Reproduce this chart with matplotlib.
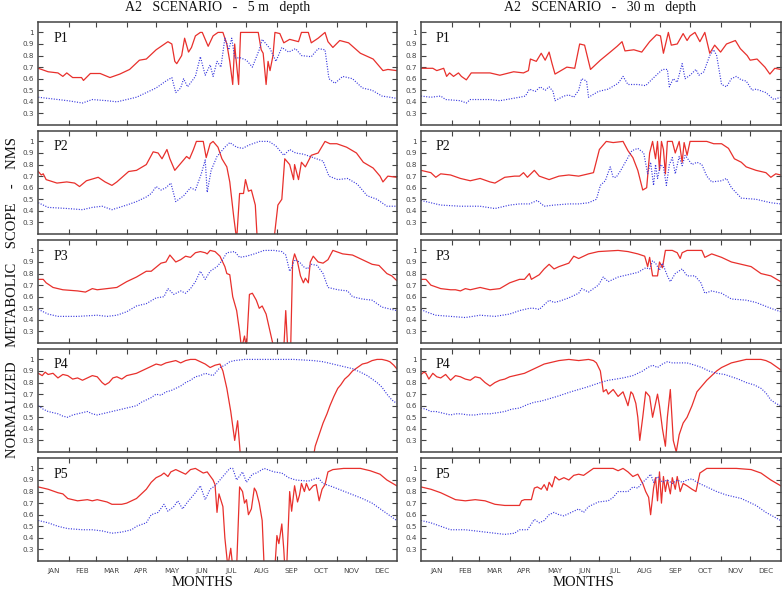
import numpy as np
import matplotlib
matplotlib.use("Agg")
import matplotlib.pyplot as plt

# (day of year, NMS) pairs; red = solid, blue = dotted
p1_5m_red = [(0, .69), (10, .66), (20, .65), (25, .62), (29, .65), (35, .61), (44, .61), (46, .585),
             (53, .645), (63, .645), (73, .61), (83, .64), (93, .68), (103, .76), (110, .77), (120, .85),
             (132, .92), (136, .90), (139, .75), (141, .73), (146, .80), (149, .95), (153, .83), (156, .87),
             (160, .97), (165, 1.0), (167, 1.0), (173, .88), (178, .97), (183, 1.0), (188, 1.0), (192, .90),
             (195, .75), (198, .55), (200, .90), (201, .80), (204, .55), (206, 1.0), (224, 1.0), (227, .85),
             (229, .82), (232, .55), (234, .75), (236, .67), (239, .80), (241, 1.0), (246, .99), (250, .91),
             (256, .94), (265, .92), (268, 1.0), (275, 1.0), (278, .91), (285, .95), (292, 1.0), (295, .92),
             (300, .87), (307, .93), (316, .91), (328, .82), (341, .77), (351, .67), (356, .68), (365, .67)]
p1_5m_blue = [(0, .44), (20, .42), (30, .41), (45, .39), (55, .42), (70, .41), (80, .40), (100, .44),
              (120, .52), (130, .58), (136, .61), (140, .48), (145, .52), (148, .60), (152, .53), (160, .62),
              (165, .79), (170, .63), (175, .72), (178, .62), (182, .75), (186, .70), (190, .95), (194, .85),
              (197, .95), (200, .78), (206, .78), (212, .76), (218, .70), (225, .85), (228, .94), (236, .86),
              (242, .75), (248, .87), (255, .83), (262, .86), (268, .80), (278, .79), (285, .86), (292, .85),
              (296, .60), (302, .56), (310, .62), (320, .60), (330, .52), (340, .50), (350, .45), (358, .44),
              (365, .43)]
p1_30m_red = [(0, .69), (12, .69), (16, .67), (23, .69), (26, .62), (29, .65), (33, .62), (38, .65),
              (41, .62), (46, .59), (51, .65), (70, .65), (80, .63), (94, .66), (104, .65), (109, .67),
              (111, .77), (117, .75), (122, .82), (126, .76), (130, .83), (133, .73), (136, .64), (148, .70),
              (156, .69), (161, .90), (166, .89), (172, .68), (182, .76), (192, .83), (199, .88), (204, .92),
              (207, .84), (216, .85), (224, .83), (232, .92), (239, .98), (243, .97), (246, .82), (251, 1.0),
              (254, .89), (260, .90), (266, .99), (270, .93), (273, .97), (278, 1.0), (283, .92), (288, 1.0),
              (293, .82), (298, .89), (304, .83), (310, .90), (319, .93), (324, .86), (331, .80), (334, .76),
              (341, .77), (349, .70), (354, .64), (359, .69), (365, .68)]
p1_30m_blue = [(0, .45), (10, .44), (20, .45), (25, .42), (40, .41), (46, .39), (50, .42), (70, .42),
               (80, .41), (100, .44), (106, .45), (110, .51), (116, .49), (121, .53), (126, .50), (130, .53),
               (134, .49), (136, .41), (145, .45), (150, .46), (155, .44), (160, .50), (163, .60), (168, .58),
               (170, .44), (180, .49), (190, .51), (200, .56), (205, .62), (210, .55), (220, .55), (228, .54),
               (235, .60), (245, .68), (250, .68), (252, .53), (256, .60), (260, .57), (265, .73), (268, .60),
               (273, .63), (279, .68), (282, .63), (287, .66), (293, .80), (297, .85), (300, .80), (305, .55),
               (310, .53), (315, .60), (320, .62), (325, .59), (330, .58), (336, .50), (340, .51), (350, .48),
               (358, .42), (365, .44)]

p2_5m_red = [(0, .74), (3, .71), (5, .72), (8, .67), (19, .64), (29, .65), (37, .64), (42, .61), (49, .66),
             (61, .69), (68, .65), (75, .62), (80, .65), (92, .74), (100, .75), (110, .80), (117, .91),
             (122, .90), (126, .85), (131, .93), (134, .85), (139, .75), (144, .80), (151, .87), (154, .85),
             (158, .93), (161, 1.0), (168, 1.0), (171, .86), (175, .98), (178, 1.0), (183, .95), (187, .85),
             (192, .78), (195, .65), (199, .35), (202, .15), (205, .55), (209, .55), (211, .67), (214, .57),
             (217, .58), (221, .45), (223, .15), (240, .15), (244, .45), (248, .50), (251, .85), (256, .80),
             (260, .67), (261, .80), (265, .67), (268, .82), (272, .78), (278, .88), (285, .90), (292, 1.0),
             (297, .98), (304, .98), (314, .95), (324, .90), (331, .82), (341, .77), (348, .70), (351, .65),
             (356, .70), (365, .69)]
p2_5m_blue = [(0, .47), (10, .43), (30, .42), (45, .41), (55, .43), (65, .44), (75, .41), (90, .45),
              (100, .48), (110, .52), (115, .55), (120, .61), (125, .58), (130, .60), (135, .64), (140, .48),
              (148, .53), (155, .60), (160, .58), (166, .72), (170, .84), (172, .56), (176, .75), (182, .87),
              (190, .95), (195, .99), (202, .95), (208, .94), (215, .97), (225, 1.0), (235, 1.0), (242, .96),
              (250, .88), (256, .93), (262, .90), (270, .89), (280, .86), (290, .83), (296, .70), (305, .67),
              (315, .68), (325, .63), (335, .53), (345, .50), (355, .44), (365, .44)]
p2_30m_red = [(0, .75), (10, .73), (15, .69), (20, .72), (30, .71), (40, .68), (50, .66), (60, .68),
              (70, .65), (75, .64), (85, .69), (95, .70), (100, .70), (104, .73), (108, .69), (115, .75),
              (120, .70), (130, .67), (140, .70), (150, .71), (160, .70), (170, .72), (175, .73), (181, .93),
              (188, 1.0), (195, .99), (205, 1.0), (210, .92), (215, .86), (220, .75), (225, .58), (229, .60),
              (232, .90), (235, 1.0), (238, .85), (240, 1.0), (242, .75), (244, 1.0), (246, .93), (248, .72),
              (250, 1.0), (255, 1.0), (258, .90), (262, 1.0), (265, .82), (267, .99), (270, .88), (273, 1.0),
              (290, 1.0), (297, .98), (305, .98), (312, .94), (318, .85), (325, .82), (330, .78), (340, .75),
              (350, .73), (355, .69), (360, .72), (365, .71)]
p2_30m_blue = [(0, .49), (10, .47), (20, .45), (40, .44), (60, .44), (75, .42), (90, .45), (100, .46),
               (110, .46), (118, .49), (125, .44), (135, .45), (150, .46), (160, .46), (170, .47), (178, .50),
               (182, .62), (187, .66), (192, .78), (195, .69), (198, .69), (202, .74), (210, .86), (214, .92),
               (220, .94), (226, .90), (230, .72), (233, .82), (236, .62), (238, .80), (240, .68), (243, .80),
               (246, .78), (249, .62), (252, .80), (255, .86), (258, .72), (262, .87), (265, .79), (268, .88),
               (275, .80), (280, .82), (285, .80), (290, .70), (295, .65), (305, .66), (310, .68), (315, .60),
               (325, .51), (340, .50), (355, .47), (365, .46)]

p3_5m_red = [(0, .75), (5, .75), (8, .72), (15, .68), (25, .66), (40, .65), (48, .64), (55, .67), (60, .66),
             (70, .67), (80, .68), (90, .73), (100, .77), (110, .82), (115, .82), (125, .89), (130, .90),
             (134, .96), (140, .90), (145, .92), (150, .95), (155, .94), (160, .98), (165, .99), (170, .98),
             (172, .97), (175, 1.0), (180, .99), (185, .95), (190, .86), (192, .80), (195, .79), (198, .60),
             (202, .48), (205, .30), (207, .15), (210, .26), (212, .15), (215, .62), (218, .63), (222, .57),
             (225, .50), (228, .52), (232, .45), (236, .30), (240, .15), (250, .15), (252, .48), (254, .15),
             (257, .15), (259, .90), (261, .97), (264, .90), (267, .78), (270, .72), (272, .76), (275, .72),
             (277, .90), (280, .95), (285, .90), (290, .89), (295, .92), (300, 1.0), (310, .97), (320, .96),
             (330, .92), (340, .88), (347, .87), (355, .80), (360, .78), (365, .74)]
p3_5m_blue = [(0, .49), (10, .45), (20, .43), (40, .43), (60, .44), (70, .43), (80, .44), (90, .47),
              (100, .52), (110, .54), (120, .59), (128, .60), (132, .67), (138, .62), (145, .65), (150, .63),
              (155, .67), (160, .73), (165, .82), (170, .75), (175, .82), (182, .86), (187, .91), (192, .98),
              (200, .99), (205, .94), (212, .95), (220, .97), (230, 1.0), (240, 1.0), (248, .99), (252, .96),
              (256, .82), (258, .85), (261, .92), (266, .90), (270, .86), (274, .84), (278, .88), (284, .87),
              (290, .80), (295, .68), (305, .66), (315, .65), (320, .60), (330, .58), (340, .57), (350, .51),
              (365, .48)]
p3_30m_red = [(0, .75), (5, .75), (10, .70), (20, .67), (30, .66), (35, .66), (40, .65), (45, .67),
              (50, .66), (60, .68), (65, .67), (70, .66), (80, .67), (90, .72), (100, .75), (105, .75),
              (110, .80), (112, .75), (120, .79), (125, .84), (130, .88), (135, .84), (140, .86), (150, .89),
              (155, .95), (160, .93), (170, .97), (180, .99), (200, 1.0), (210, .99), (220, .97), (227, .95),
              (230, .86), (232, .94), (235, .78), (240, .78), (242, .90), (245, .85), (248, 1.0), (255, 1.0),
              (260, .98), (263, .93), (265, .98), (270, 1.0), (285, 1.0), (288, .94), (295, .97), (305, .94),
              (315, .90), (325, .88), (335, .86), (345, .80), (355, .78), (365, .73)]
p3_30m_blue = [(0, .49), (5, .47), (15, .44), (30, .43), (45, .42), (60, .44), (75, .43), (90, .45),
               (100, .48), (110, .50), (115, .50), (120, .49), (125, .53), (130, .57), (135, .55), (140, .56),
               (150, .59), (160, .63), (163, .67), (170, .64), (180, .70), (185, .77), (190, .73), (200, .77),
               (210, .79), (220, .81), (228, .85), (232, .84), (235, .91), (238, .89), (242, .83), (245, .89),
               (250, .78), (253, .73), (258, .80), (265, .84), (270, .78), (278, .78), (284, .72), (288, .63),
               (295, .65), (305, .63), (315, .58), (330, .57), (340, .55), (355, .50), (365, .47)]

p4_5m_red = [(0, .88), (4, .86), (7, .89), (10, .87), (15, .88), (20, .84), (25, .87), (30, .86), (35, .83),
             (40, .84), (45, .82), (50, .84), (55, .86), (60, .85), (65, .80), (68, .78), (72, .80), (76, .84),
             (80, .85), (85, .83), (90, .86), (95, .87), (100, .88), (105, .90), (110, .92), (115, .94),
             (120, .96), (125, .95), (130, .97), (135, .98), (140, .99), (145, .97), (150, .99), (155, 1.0),
             (160, 1.0), (165, .98), (170, .96), (175, .93), (180, .95), (185, .96), (188, .90), (192, .75),
             (196, .55), (200, .30), (203, .47), (206, .15), (280, .15), (282, .25), (286, .35), (290, .45),
             (294, .53), (297, .60), (301, .68), (305, .75), (308, .78), (312, .83), (316, .86), (320, .90),
             (325, .93), (330, .96), (335, .97), (340, .99), (345, 1.0), (350, 1.0), (355, .99), (358, .98),
             (362, .95), (365, .92)]
p4_5m_blue = [(0, .60), (5, .57), (10, .55), (15, .54), (20, .53), (25, .51), (30, .50), (35, .52), (40, .53),
              (45, .54), (50, .55), (55, .53), (60, .52), (65, .53), (70, .54), (75, .55), (80, .56), (85, .57),
              (90, .58), (95, .59), (100, .60), (105, .63), (110, .65), (115, .67), (120, .70), (125, .69),
              (130, .72), (135, .73), (140, .75), (145, .77), (150, .80), (155, .82), (160, .85), (165, .86),
              (170, .88), (174, .87), (178, .86), (182, .90), (185, .93), (190, .95), (195, .98), (200, .99),
              (210, 1.0), (260, 1.0), (280, .99), (290, .98), (300, .96), (310, .94), (320, .92), (328, .89),
              (335, .86), (340, .83), (345, .80), (350, .76), (355, .70), (360, .65), (365, .62)]
p4_30m_red = [(0, .87), (3, .89), (5, .88), (8, .83), (12, .88), (16, .85), (20, .84), (25, .87), (30, .82),
              (35, .86), (40, .85), (45, .83), (50, .82), (55, .85), (60, .84), (65, .80), (70, .77), (75, .80),
              (80, .82), (85, .83), (90, .85), (95, .86), (100, .87), (105, .88), (110, .90), (115, .92),
              (120, .94), (125, .96), (130, .97), (135, .98), (140, .99), (150, 1.0), (160, .99), (170, 1.0),
              (175, .99), (178, .97), (182, .90), (185, .72), (188, .74), (190, .70), (195, .74), (200, .68),
              (205, .72), (208, .65), (210, .60), (213, .72), (215, .70), (218, .62), (220, .50), (222, .30),
              (225, .50), (228, .72), (232, .68), (235, .50), (240, .70), (242, .60), (245, .40), (248, .25),
              (250, .50), (253, .74), (256, .30), (259, .20), (262, .35), (266, .45), (270, .50), (275, .60),
              (280, .72), (285, .77), (290, .82), (295, .86), (300, .90), (305, .93), (310, .95), (315, .97),
              (320, .98), (325, .99), (330, 1.0), (345, 1.0), (350, .99), (355, .97), (360, .94), (365, .91)]
p4_30m_blue = [(0, .58), (5, .57), (10, .55), (15, .55), (20, .54), (25, .53), (30, .52), (35, .53),
               (40, .53), (48, .52), (55, .52), (62, .53), (70, .53), (78, .54), (85, .55), (92, .57),
               (100, .58), (108, .61), (115, .63), (122, .64), (130, .66), (138, .68), (145, .70), (152, .72),
               (160, .74), (168, .76), (175, .78), (182, .80), (190, .82), (198, .83), (205, .84), (210, .85),
               (215, .86), (220, .88), (225, .90), (230, .93), (235, .95), (240, .93), (245, .96), (250, .98),
               (255, .97), (260, .97), (270, .97), (278, .95), (285, .93), (292, .90), (300, .88), (308, .87),
               (315, .85), (322, .83), (330, .80), (338, .78), (345, .75), (350, .71), (355, .65), (360, .62),
               (365, .60)]

p5_5m_red = [(0, .84), (10, .82), (20, .79), (25, .78), (30, .74), (40, .72), (50, .73), (55, .72),
             (60, .73), (70, .71), (75, .69), (85, .69), (90, .70), (95, .72), (100, .74), (105, .78),
             (110, .82), (115, .88), (120, .92), (125, .94), (128, .96), (132, .93), (135, .97), (140, .99),
             (145, .97), (150, .95), (155, .99), (160, 1.0), (168, .96), (172, .97), (178, .90), (180, .86),
             (182, .62), (184, .78), (188, .67), (190, .40), (193, .15), (196, .31), (198, .15), (202, .15),
             (205, .84), (208, .80), (210, .70), (212, .73), (214, .60), (217, .65), (220, .83), (222, .80),
             (225, .70), (228, .55), (230, .15), (241, .15), (243, .42), (245, .35), (248, .52), (250, .30),
             (251, .15), (253, .15), (256, .80), (258, .63), (261, .85), (264, .71), (266, .77), (268, .87),
             (271, .80), (273, .87), (276, .81), (280, .85), (283, .86), (286, .72), (289, .82), (292, .86),
             (295, .97), (300, .99), (311, 1.0), (328, 1.0), (338, .98), (348, .95), (355, .90), (365, .85)]
p5_5m_blue = [(0, .55), (10, .53), (20, .50), (30, .48), (45, .47), (55, .47), (65, .46), (75, .44),
              (85, .45), (95, .47), (100, .50), (110, .53), (115, .60), (122, .62), (128, .69), (132, .63),
              (138, .67), (142, .72), (147, .65), (152, .71), (160, .79), (165, .85), (170, .73), (175, .82),
              (180, .85), (185, .90), (190, .95), (195, 1.0), (198, 1.0), (202, .90), (208, .97), (212, .88),
              (218, .95), (222, .96), (230, 1.0), (240, .97), (248, .96), (255, .92), (262, .90), (275, .89),
              (285, .92), (290, .87), (300, .84), (315, .79), (330, .74), (340, .70), (350, .64), (365, .55)]
p5_30m_red = [(0, .84), (10, .82), (20, .79), (30, .75), (35, .73), (45, .72), (55, .73), (65, .72),
              (75, .69), (85, .68), (95, .68), (100, .68), (102, .72), (105, .73), (112, .73), (115, .83),
              (118, .84), (122, .82), (125, .86), (128, .81), (130, .88), (133, .84), (136, .93), (140, .90),
              (145, .92), (150, .90), (155, .94), (160, .95), (165, .94), (170, .97), (175, 1.0), (195, 1.0),
              (200, .98), (205, 1.0), (210, .97), (215, .93), (220, .95), (225, .87), (228, .80), (231, .75),
              (233, .60), (236, .83), (238, .92), (240, .72), (242, .97), (244, .70), (246, .93), (248, .80),
              (250, .90), (253, .78), (255, .92), (258, .82), (260, .93), (263, .80), (266, .87), (270, .85),
              (275, .82), (279, .80), (283, .96), (290, 1.0), (320, 1.0), (335, .99), (345, .96), (355, .90),
              (365, .85)]
p5_30m_blue = [(0, .55), (10, .53), (20, .50), (30, .47), (45, .47), (55, .46), (65, .45), (75, .44),
               (85, .43), (95, .44), (100, .47), (108, .47), (112, .52), (115, .56), (120, .53), (125, .55),
               (130, .60), (135, .62), (140, .60), (145, .59), (155, .63), (160, .65), (165, .62), (170, .67),
               (180, .71), (190, .72), (195, .75), (200, .80), (210, .80), (215, .84), (220, .83), (225, .88),
               (230, .92), (233, .95), (236, .88), (240, .93), (245, .88), (250, .90), (255, .87), (260, .90),
               (265, .88), (270, .90), (275, .91), (280, .88), (290, .84), (300, .80), (310, .77), (325, .74),
               (340, .68), (350, .62), (365, .55)]

panel_names = ["P1", "P2", "P3", "P4", "P5"]
series_5m = [(p1_5m_red, p1_5m_blue), (p2_5m_red, p2_5m_blue), (p3_5m_red, p3_5m_blue),
             (p4_5m_red, p4_5m_blue), (p5_5m_red, p5_5m_blue)]
series_30m = [(p1_30m_red, p1_30m_blue), (p2_30m_red, p2_30m_blue), (p3_30m_red, p3_30m_blue),
              (p4_30m_red, p4_30m_blue), (p5_30m_red, p5_30m_blue)]
months = ["JAN", "FEB", "MAR", "APR", "MAY", "JUN", "JUL", "AUG", "SEP", "OCT", "NOV", "DEC"]
month_days = [31, 28, 31, 30, 31, 30, 31, 31, 30, 31, 30, 31]
ytick_vals = [0.3, 0.4, 0.5, 0.6, 0.7, 0.8, 0.9, 1.0]
ytick_text = ["0.3", "0.4", "0.5", "0.6", "0.7", "0.8", "0.9", "1"]

RED = "#e8302c"
BLUE = "#3535dd"
FRAME = "#444444"

W, H = 782, 591
fig = plt.figure(figsize=(W / 100, H / 100), dpi=100)

edges = np.cumsum([0] + month_days)
centers = (edges[:-1] + edges[1:]) / 2

col_x = [(38.3, 358.4), (421.0, 359.7)]
serif = ["Liberation Serif", "DejaVu Serif"]

for c, allseries in enumerate([series_5m, series_30m]):
    x0, w = col_x[c]
    for r in range(5):
        top = 22 + r * 109
        ax = fig.add_axes([x0 / W, 1 - (top + 103) / H, w / W, 103 / H])
        red, blue = allseries[r]
        ax.plot([d for d, v in red], [v for d, v in red], color=RED, lw=0.9)
        ax.plot([d for d, v in blue], [v for d, v in blue], color=BLUE, lw=0.85,
                linestyle=(0, (0.9, 1.3)))
        ax.set_xlim(0, 365)
        ax.set_ylim(0.2, 1.09)
        for s in ax.spines.values():
            s.set_color(FRAME)
            s.set_linewidth(1.1)
        ax.set_yticks(ytick_vals)
        ax.set_yticklabels(ytick_text)
        ax.set_xticks(edges[1:-1])
        ax.set_xticklabels([])
        ax.tick_params(axis="both", which="major", direction="in", length=3.5, width=0.8,
                       colors=FRAME, top=True, right=True, labelsize=5.2, pad=3)
        if r == 4:
            ax.set_xticks(centers, minor=True)
            ax.set_xticklabels(months, minor=True)
            ax.tick_params(axis="x", which="minor", length=0, labelsize=5.2, pad=5,
                           colors=FRAME)
        ax.text(15 / w, 1 - 16 / 103, panel_names[r], transform=ax.transAxes,
                family=serif, fontsize=10, va="center", ha="left", color="#111111")

fig.text(217.5 / W, 1 - 8 / H, "A2   SCENARIO   -   5 m   depth", family=serif,
         fontsize=10, ha="center", va="center", color="#111111")
fig.text(600 / W, 1 - 8 / H, "A2   SCENARIO   -   30 m   depth", family=serif,
         fontsize=10, ha="center", va="center", color="#111111")
fig.text(203 / W, 1 - 583 / H, "MONTHS", family=serif, fontsize=10.5,
         ha="center", va="center", color="#111111")
fig.text(584 / W, 1 - 583 / H, "MONTHS", family=serif, fontsize=10.5,
         ha="center", va="center", color="#111111")
fig.text(13 / W, 1 - 297 / H, "NORMALIZED    METABOLIC    SCOPE    -    NMS", family=serif,
         fontsize=10.5, ha="center", va="center", rotation=90, color="#111111")

fig.savefig("out.png", dpi=100)
